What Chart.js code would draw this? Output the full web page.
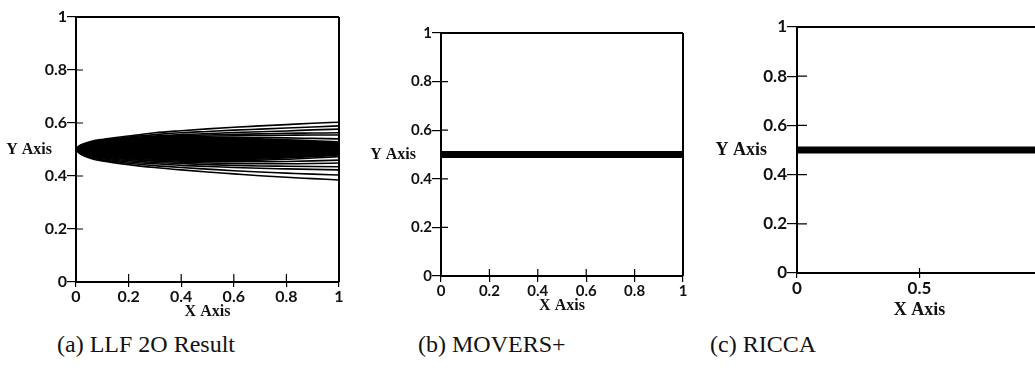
<!DOCTYPE html>
<html>
<head>
<meta charset="utf-8">
<script src="https://cdn.jsdelivr.net/npm/chart.js@4/dist/chart.umd.min.js"></script>
<style>
  html, body { margin: 0; padding: 0; background: #fff; overflow: hidden; width: 1035px; height: 370px; }
  #wrap { position: relative; width: 1035px; height: 370px; overflow: hidden; }
  canvas { position: absolute; top: 0; }
  .cap { position: absolute; top: 330px; font-family: "Liberation Serif", serif; font-size: 24px; color: #111; white-space: nowrap; line-height: 28px; }
</style>
</head>
<body>
<div id="wrap">
  <canvas id="c1" width="345" height="330" style="left:0px"></canvas>
  <canvas id="c2" width="345" height="330" style="left:345px"></canvas>
  <canvas id="c3" width="360" height="330" style="left:690px"></canvas>
  <div class="cap" id="capA" style="left:57px"></div>
  <div class="cap" id="capB" style="left:418px"></div>
  <div class="cap" id="capC" style="left:710px"></div>
</div>
<script>
// ---------- data ----------
const CAPTIONS = ['(a) LLF 2O Result', '(b) MOVERS+', '(c) RICCA'];
const TICKS_02 = ['0', '0.2', '0.4', '0.6', '0.8', '1'];
const TICKS_05 = ['0', '0.5', '1'];

// LLF 2O contour lines (x samples shared by all lines)
const LLF_X  = [0, 0.01, 0.03, 0.06, 0.1, 0.2, 0.3, 0.4, 0.5, 0.6, 0.7, 0.8, 0.9, 1.0];
const T1 = [0.5, 0.512, 0.522, 0.531, 0.538, 0.551, 0.563, 0.571, 0.578, 0.584, 0.589, 0.594, 0.599, 0.603];
const T2 = [0.5, 0.511, 0.520, 0.528, 0.535, 0.547, 0.556, 0.563, 0.568, 0.573, 0.577, 0.581, 0.585, 0.589];
const T3 = [0.5, 0.510, 0.519, 0.527, 0.533, 0.544, 0.551, 0.556, 0.560, 0.564, 0.567, 0.570, 0.574, 0.577];
const T4 = [0.5, 0.509, 0.518, 0.525, 0.531, 0.541, 0.548, 0.552, 0.555, 0.557, 0.559, 0.561, 0.562, 0.563];
const T5 = [0.5, 0.508, 0.516, 0.523, 0.529, 0.539, 0.545, 0.548, 0.550, 0.552, 0.553, 0.554, 0.555, 0.555];
const T6 = [0.5, 0.507, 0.515, 0.522, 0.528, 0.537, 0.542, 0.545, 0.546, 0.546, 0.545, 0.544, 0.542, 0.540];
const CORE_UP = [0.5, 0.507, 0.514, 0.521, 0.527, 0.535, 0.540, 0.542, 0.543, 0.542, 0.540, 0.537, 0.533, 0.529];
const CORE_LO = [0.5, 0.494, 0.488, 0.482, 0.477, 0.470, 0.465, 0.462, 0.461, 0.462, 0.464, 0.468, 0.473, 0.479];
const B1 = [0.5, 0.494, 0.487, 0.481, 0.476, 0.468, 0.463, 0.460, 0.459, 0.459, 0.460, 0.463, 0.468, 0.473];
const B2 = [0.5, 0.493, 0.486, 0.479, 0.474, 0.465, 0.459, 0.456, 0.454, 0.454, 0.454, 0.455, 0.457, 0.460];
const B3 = [0.5, 0.492, 0.484, 0.477, 0.471, 0.462, 0.456, 0.452, 0.449, 0.447, 0.446, 0.446, 0.447, 0.449];
const B4 = [0.5, 0.491, 0.482, 0.474, 0.468, 0.458, 0.451, 0.447, 0.443, 0.440, 0.438, 0.437, 0.436, 0.435];
const B5 = [0.5, 0.490, 0.480, 0.471, 0.465, 0.453, 0.446, 0.440, 0.436, 0.432, 0.429, 0.427, 0.425, 0.423];
const B6 = [0.5, 0.489, 0.478, 0.468, 0.461, 0.448, 0.439, 0.432, 0.426, 0.420, 0.415, 0.411, 0.407, 0.404];
const B7 = [0.5, 0.488, 0.476, 0.465, 0.457, 0.443, 0.432, 0.423, 0.415, 0.408, 0.401, 0.395, 0.390, 0.385];

// MOVERS+ and RICCA interface lines
const FLAT_X   = [0, 1];
const MOVERS_Y = [0.5, 0.5];
const RICCA_Y  = [0.5, 0.5];

// ---------- helpers ----------
const pts = (xs, ys) => xs.map((x, i) => ({ x: x, y: ys[i] }));
document.getElementById('capA').textContent = CAPTIONS[0];
document.getElementById('capB').textContent = CAPTIONS[1];
document.getElementById('capC').textContent = CAPTIONS[2];

function framePlugin(cfg) {
  return {
    id: 'frame',
    afterDraw(chart) {
      const ctx = chart.ctx, a = chart.chartArea;
      const xs = chart.scales.x, ys = chart.scales.y;
      ctx.save();
      ctx.strokeStyle = '#000';
      ctx.lineWidth = 2;
      ctx.beginPath();
      ctx.moveTo(a.left, a.top); ctx.lineTo(a.right, a.top);
      ctx.moveTo(a.right, a.top); ctx.lineTo(a.right, a.bottom);
      ctx.stroke();
      // inward tick marks
      ctx.lineWidth = 1.2;
      ctx.beginPath();
      xs.ticks.forEach(t => {
        const p = xs.getPixelForValue(t.value);
        ctx.moveTo(p, a.bottom); ctx.lineTo(p, a.bottom - cfg.xIn);
      });
      ys.ticks.forEach(t => {
        const p = ys.getPixelForValue(t.value);
        ctx.moveTo(a.left, p); ctx.lineTo(a.left + cfg.yIn, p);
      });
      ctx.stroke();
      // axis titles
      ctx.fillStyle = '#111';
      ctx.font = 'bold ' + cfg.titleSize + 'px "Liberation Serif", serif';
      ctx.textBaseline = 'middle';
      ctx.textAlign = 'right';
      ctx.fillText('Y Axis', a.left - cfg.yTitleGap, (a.top + a.bottom) / 2);
      ctx.textAlign = 'center';
      ctx.fillText('X Axis', (a.left + a.right) / 2, a.bottom + cfg.xTitleGap);
      ctx.restore();
    }
  };
}

function makeChart(id, datasets, o) {
  return new Chart(document.getElementById(id), {
    type: 'line',
    data: { datasets: datasets },
    options: {
      responsive: false,
      animation: false,
      devicePixelRatio: 1,
      layout: { padding: { left: 0, top: o.top, right: o.right, bottom: o.bottom } },
      plugins: { legend: { display: false }, tooltip: { enabled: false } },
      elements: { point: { radius: 0 } },
      scales: {
        x: {
          type: 'linear', min: 0, max: 1,
          afterFit: s => { s.height = 30; },
          border: { display: true, color: '#000', width: 2 },
          grid: { display: true, drawOnChartArea: false, drawTicks: true, tickLength: o.xOut, color: '#000', lineWidth: 1.2 },
          ticks: { stepSize: o.xStep, padding: 0, maxRotation: 0, autoSkip: false, color: '#111',
                   font: { family: 'Lato', weight: 'bold', size: o.tickSize },
                   callback: (v, i) => o.xLabels[i] }
        },
        y: {
          type: 'linear', min: 0, max: 1,
          afterFit: s => { s.width = o.yWidth; },
          border: { display: true, color: '#000', width: 2 },
          grid: { display: true, drawOnChartArea: false, drawTicks: true, tickLength: o.yOut, color: '#000', lineWidth: 1.2 },
          ticks: { stepSize: 0.2, padding: 0, autoSkip: false, color: '#111',
                   font: { family: 'Lato', weight: 'bold', size: o.tickSize },
                   callback: (v, i) => TICKS_02[i] }
        }
      }
    },
    plugins: [framePlugin(o)]
  });
}

const lineDs = (ys) => ({ data: pts(LLF_X, ys), borderColor: '#000', borderWidth: 1.6, fill: false,
                          cubicInterpolationMode: 'monotone', pointRadius: 0 });

const llfSets = [
  lineDs(T1), lineDs(T2), lineDs(T3), lineDs(T4), lineDs(T5), lineDs(T6),
  { data: pts(LLF_X, CORE_UP), borderColor: '#000', borderWidth: 1.6, fill: false, cubicInterpolationMode: 'monotone', pointRadius: 0 },
  { data: pts(LLF_X, CORE_LO), borderColor: '#000', borderWidth: 1.6, fill: '-1', backgroundColor: '#000', cubicInterpolationMode: 'monotone', pointRadius: 0 },
  lineDs(B1), lineDs(B2), lineDs(B3), lineDs(B4), lineDs(B5), lineDs(B6), lineDs(B7)
];

makeChart('c1', llfSets, {
  top: 17, right: 6, bottom: 18, yWidth: 76, xOut: 5, yOut: 9, xIn: 8, yIn: 7,
  xStep: 0.2, xLabels: TICKS_02, tickSize: 16, titleSize: 16, yTitleGap: 24, xTitleGap: 30
});

makeChart('c2', [
  { data: pts(FLAT_X, MOVERS_Y), borderColor: '#000', borderWidth: 7, fill: false, pointRadius: 0 }
], {
  top: 33, right: 7, bottom: 24, yWidth: 96, xOut: 6, yOut: 9, xIn: 7, yIn: 7,
  xStep: 0.2, xLabels: TICKS_02, tickSize: 15, titleSize: 16, yTitleGap: 25, xTitleGap: 30
});

makeChart('c3', [
  { data: pts(FLAT_X, RICCA_Y), borderColor: '#000', borderWidth: 7, fill: false, pointRadius: 0 }
], {
  top: 27, right: 8, bottom: 27, yWidth: 107, xOut: 5, yOut: 10, xIn: 5, yIn: 10,
  xStep: 0.5, xLabels: TICKS_05, tickSize: 17, titleSize: 18, yTitleGap: 30, xTitleGap: 37
});
</script>
</body>
</html>
